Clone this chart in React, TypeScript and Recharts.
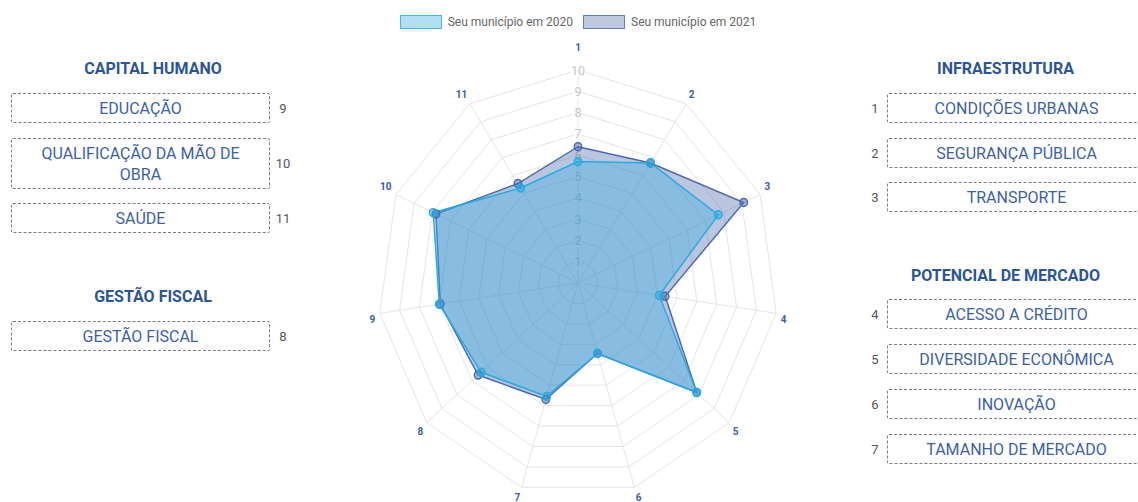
import React from "react";
import { RadarChart, Radar, PolarGrid, PolarAngleAxis, PolarRadiusAxis } from "recharts";

// radar axes (numbered indicators) and the two years of scores
const axisLabels = ["1", "2", "3", "4", "5", "6", "7", "8", "9", "10", "11"];
const values2020 = [5.7, 6.7, 7.7, 4.1, 7.85, 3.45, 5.55, 6.4, 7.0, 7.95, 5.3];
const values2021 = [6.4, 6.7, 9.1, 4.4, 7.85, 3.45, 5.7, 6.6, 6.95, 7.8, 5.55];
const radiusTicks = [0, 1, 2, 3, 4, 5, 6, 7, 8, 9, 10];

const seriesNames = ["Seu município em 2020", "Seu município em 2021"];
const seriesStroke = ["#2aa9e1", "#4a6aab"];
const seriesFill = ["#2aa9e1", "#4a6aab"];

// side panels
const humanCapitalItems = ["EDUCAÇÃO", "QUALIFICAÇÃO DA MÃO DE OBRA", "SAÚDE"];
const humanCapitalNums = [9, 10, 11];
const fiscalItems = ["GESTÃO FISCAL"];
const fiscalNums = [8];
const infraItems = ["CONDIÇÕES URBANAS", "SEGURANÇA PÚBLICA", "TRANSPORTE"];
const infraNums = [1, 2, 3];
const marketItems = ["ACESSO A CRÉDITO", "DIVERSIDADE ECONÔMICA", "INOVAÇÃO", "TAMANHO DE MERCADO"];
const marketNums = [4, 5, 6, 7];

const chartData = axisLabels.map((a, i) => ({ axis: a, y2020: values2020[i], y2021: values2021[i] }));

const SX = 0.94;
const CX = 250;
const CY = 283;
const OUTER = 213;
const FONT = "Roboto, 'Noto Sans', sans-serif";
const HEAD = "#2b5597";
const BOXTXT = "#3d5fa8";

function AngleTick(props: any) {
  const { payload, index } = props;
  const th = (index * 2 * Math.PI) / axisLabels.length;
  const s = Math.sin(th);
  const c = Math.cos(th);
  const dist = OUTER + 5 + (index === 0 ? 12 : 0);
  const px = CX + dist * s;
  let py = CY - dist * c;
  if (Math.abs(s) < 0.99 || index === 0) py += c > 0 ? -5.5 : 5.5;
  const anchor = Math.abs(s) < 0.05 ? "middle" : s > 0 ? "start" : "end";
  return (
    <g transform={`translate(${px},${py}) scale(${1 / SX},1)`}>
      <text x={0} y={0} textAnchor={anchor} dominantBaseline="central" fill="#3a5ea8" fontSize={10} fontWeight={700} fontFamily={FONT}>
        {payload.value}
      </text>
    </g>
  );
}

function RadiusTick(props: any) {
  const { x, y, payload } = props;
  if (payload.value === 0) return null;
  const w = String(payload.value).length * 7 + 2;
  return (
    <g transform={`translate(${x},${y}) scale(${1 / SX},1)`}>
      <rect x={-w / 2} y={-7} width={w} height={14} fill="#fff" fillOpacity={0.75} />
      <text x={0} y={0} textAnchor="middle" dominantBaseline="central" fill="#c4c4c4" fontSize={12.5} fontFamily={FONT}>
        {payload.value}
      </text>
    </g>
  );
}

function Box({ left, top, height, text, num, numLeft }: { left: number; top: number; height: number; text: string; num: number; numLeft: number }) {
  return (
    <>
      <div
        style={{
          position: "absolute", left, top, width: 259, height, boxSizing: "border-box",
          border: "1px dashed #7a7a7a", borderRadius: 2, display: "flex", alignItems: "center",
          justifyContent: "center", textAlign: "center", padding: "0 18px", color: BOXTXT,
          fontSize: 16, lineHeight: "21px", fontFamily: FONT,
        }}
      >
        {text}
      </div>
      <div style={{ position: "absolute", left: numLeft - 15, width: 30, top, height, display: "flex", alignItems: "center", justifyContent: "center", fontSize: 13, color: "#555", fontFamily: FONT }}>
        {num}
      </div>
    </>
  );
}

function Header({ left, width, top, text }: { left: number; width: number; top: number; text: string }) {
  return (
    <div style={{ position: "absolute", left, width, top: top - 10, height: 20, lineHeight: "20px", textAlign: "center", fontWeight: 700, fontSize: 16, color: HEAD, fontFamily: FONT }}>
      {text}
    </div>
  );
}

export default function App() {
  const leftTops = [93, 138, 203];
  const leftHeights = [30, 51, 30];
  const infraTops = [93, 138, 182];
  const marketTops = [299, 344, 389, 434];
  return (
    <div style={{ position: "absolute", left: 0, top: 0, width: 1138, height: 502, overflow: "hidden", background: "#fff", fontFamily: FONT }}>
      {/* legend */}
      <div style={{ position: "absolute", top: 15, left: 0, width: 1138, display: "flex", justifyContent: "center", gap: 10, paddingLeft: 18, boxSizing: "border-box" }}>
        {seriesNames.map((n, i) => (
          <div key={n} style={{ display: "flex", alignItems: "center", fontSize: 12, color: "#666" }}>
            <span style={{ display: "inline-block", width: 40, height: 12, border: `1.5px solid ${seriesStroke[i]}`, background: seriesFill[i], opacity: 0.85, marginRight: 6, boxSizing: "content-box", backgroundClip: "padding-box" }}>
              <span style={{ display: "block", width: "100%", height: "100%", background: "rgba(255,255,255,0.58)" }} />
            </span>
            {n}
          </div>
        ))}
      </div>

      {/* radar */}
      <div style={{ position: "absolute", left: 578 - CX, top: 0, width: 500, height: 502, transform: `scaleX(${SX})`, transformOrigin: `${CX}px ${CY}px` }}>
        <RadarChart width={500} height={502} data={chartData} cx={CX} cy={CY} outerRadius={OUTER} margin={{ top: 0, right: 0, bottom: 0, left: 0 }}>
          <PolarGrid gridType="polygon" stroke="#e3e3e3" />
          <PolarAngleAxis dataKey="axis" tick={<AngleTick />} tickLine={false} axisLine={false} />
          <PolarRadiusAxis
            angle={90} domain={[0, 10]} ticks={radiusTicks as any} tickCount={11} axisLine={false}
            tick={<RadiusTick />} {...({ zIndex: 50 } as any)}
          />
          <Radar
            name={seriesNames[1]} dataKey="y2021" stroke={seriesStroke[1]} strokeWidth={1.5} fill={seriesFill[1]} fillOpacity={0.38}
            dot={{ r: 4, fill: seriesStroke[1], fillOpacity: 0.5, stroke: seriesStroke[1], strokeWidth: 1.5 }} isAnimationActive={false}
          />
          <Radar
            name={seriesNames[0]} dataKey="y2020" stroke={seriesStroke[0]} strokeWidth={1.5} fill={seriesFill[0]} fillOpacity={0.35}
            dot={{ r: 4, fill: seriesStroke[0], fillOpacity: 0.5, stroke: seriesStroke[0], strokeWidth: 1.5 }} isAnimationActive={false}
          />
        </RadarChart>
      </div>

      {/* left panel */}
      <Header left={11} width={284} top={69} text="CAPITAL HUMANO" />
      {humanCapitalItems.map((t, i) => (
        <Box key={t} left={11} top={leftTops[i]} height={leftHeights[i]} text={t} num={humanCapitalNums[i]} numLeft={283} />
      ))}
      <Header left={11} width={284} top={297} text="GESTÃO FISCAL" />
      {fiscalItems.map((t, i) => (
        <Box key={t} left={11} top={321} height={30} text={t} num={fiscalNums[i]} numLeft={283} />
      ))}

      {/* right panel */}
      <Header left={865} width={281} top={69} text="INFRAESTRUTURA" />
      {infraItems.map((t, i) => (
        <Box key={t} left={887} top={infraTops[i]} height={30} text={t} num={infraNums[i]} numLeft={875} />
      ))}
      <Header left={865} width={281} top={276} text="POTENCIAL DE MERCADO" />
      {marketItems.map((t, i) => (
        <Box key={t} left={887} top={marketTops[i]} height={30} text={t} num={marketNums[i]} numLeft={875} />
      ))}
    </div>
  );
}
